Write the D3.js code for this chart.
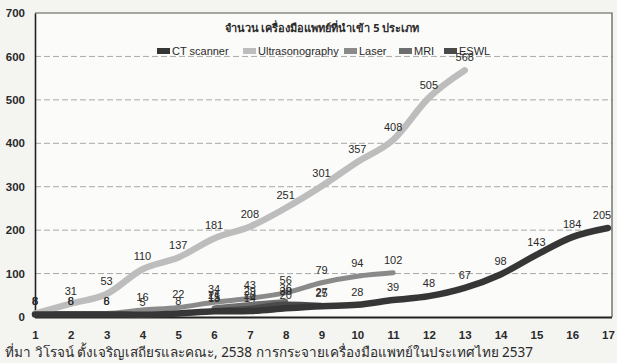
<!DOCTYPE html>
<html>
<head>
<meta charset="utf-8">
<script src="https://cdn.jsdelivr.net/npm/d3@7/dist/d3.min.js"></script>
<style>
  html, body { margin: 0; padding: 0; background: #f4f4f1; }
  svg { display: block; }
  text { font-family: "Liberation Sans", Arial, "DejaVu Sans", sans-serif; fill: #2a2a2a; }
</style>
</head>
<body>
<svg id="chart" width="617" height="363"></svg>
<script>
// x positions 1..17
const categories = d3.range(1, 18);

// number of imported units per series (null = no data)
const ctScanner = [6, 6, 6, 5, 8, 13, 14, 20, 25, 28, 39, 48, 67, 98, 143, 184, 205];
const ultrasonography = [8, 31, 53, 110, 137, 181, 208, 251, 301, 357, 408, 505, 568];
const laser = [8, 8, 8, 16, 22, 34, 43, 56, 79, 94, 102];
const mri = [null, null, null, null, null, 21, 29, 36];
const eswl = [null, null, null, null, null, 15, 20, 30, 27];

const yTicks = [0, 100, 200, 300, 400, 500, 600, 700];

const titleText = "จำนวน เครื่องมือแพทย์ที่นำเข้า 5 ประเภท";
const sourceText = "ที่มา วิโรจน์ ตั้งเจริญเสถียรและคณะ, 2538 การกระจายเครื่องมือแพทย์ในประเทศไทย 2537";

const series = [
  { name: "CT scanner", values: ctScanner, color: "#363636", width: 6.5 },
  { name: "Ultrasonography", values: ultrasonography, color: "#bdbdbd", width: 6.5 },
  { name: "Laser", values: laser, color: "#8a8a8a", width: 5 },
  { name: "MRI", values: mri, color: "#6e6e6e", width: 5 },
  { name: "ESWL", values: eswl, color: "#4a4a4a", width: 5 }
];

const svg = d3.select("#chart");
const plotL = 35, plotR = 608, plotT = 13, plotB = 317, frameR = 612;

const x = d3.scaleLinear().domain([1, 17]).range([plotL, plotR]);
const y = d3.scaleLinear().domain([0, 700]).range([plotB, plotT]);

// plot background
svg.append("rect").attr("x", plotL).attr("y", plotT)
  .attr("width", frameR - plotL).attr("height", plotB - plotT)
  .attr("fill", "#fbfbf9");

// dashed gridlines
svg.append("g").selectAll("line").data(yTicks.filter(t => t > 0 && t < 700)).join("line")
  .attr("x1", plotL).attr("x2", frameR)
  .attr("y1", d => y(d)).attr("y2", d => y(d))
  .attr("stroke", "#a8a8a8").attr("stroke-width", 1).attr("stroke-dasharray", "6,3");

// frame: top and right borders
svg.append("path")
  .attr("d", `M${plotL},${plotT}H${frameR}V${plotB}`)
  .attr("fill", "none").attr("stroke", "#555").attr("stroke-width", 1.2);

// y axis
const yAxis = svg.append("g").attr("transform", `translate(${plotL},0)`)
  .call(d3.axisLeft(y).tickValues(yTicks).tickSize(0).tickPadding(10));
yAxis.select(".domain").attr("stroke", "#222").attr("stroke-width", 1.6);
yAxis.selectAll("text").style("font-size", "11.5px").style("font-weight", "bold").attr("fill", "#2a2a2a");

// x axis
const xAxis = svg.append("g").attr("transform", `translate(0,${plotB})`)
  .call(d3.axisBottom(x).tickValues(categories).tickFormat(d3.format("d")).tickSize(0).tickPadding(14));
xAxis.select(".domain").attr("stroke", "#222").attr("stroke-width", 2.2)
  .attr("d", `M${plotL},0.5H${frameR}`);
xAxis.selectAll("text").style("font-size", "11.5px").style("font-weight", "bold").attr("fill", "#2a2a2a");

// lines
const line = d3.line()
  .defined(d => d.v !== null && d.v !== undefined)
  .x(d => x(d.c)).y(d => y(d.v))
  .curve(d3.curveMonotoneX);

const drawOrder = [2, 3, 4, 1, 0];
drawOrder.forEach(i => {
  const s = series[i];
  const pts = s.values.map((v, k) => ({ c: categories[k], v }));
  svg.append("path").datum(pts)
    .attr("d", line)
    .attr("fill", "none")
    .attr("stroke", s.color)
    .attr("stroke-width", s.width)
    .attr("stroke-linejoin", "round")
    .attr("stroke-linecap", "round");
});

// value labels above each point
series.forEach(s => {
  s.values.forEach((v, k) => {
    if (v === null || v === undefined) return;
    const lx = categories[k] === 17 ? x(categories[k]) - 6 : x(categories[k]);
    svg.append("text")
      .attr("x", lx)
      .attr("y", y(v) - 9)
      .attr("text-anchor", "middle")
      .style("font-size", "11px")
      .attr("fill", "#333")
      .text(v);
  });
});

// title
svg.append("text").attr("x", 322).attr("y", 32).attr("text-anchor", "middle")
  .style("font-size", "11px").style("font-weight", "bold")
  .style("font-family", "'Noto Sans', 'DejaVu Sans', sans-serif")
  .text(titleText);

// legend
const legendItems = [
  { s: series[0], x: 157 },
  { s: series[1], x: 243 },
  { s: series[2], x: 344 },
  { s: series[3], x: 399 },
  { s: series[4], x: 444 }
];
const lg = svg.append("g");
legendItems.forEach(it => {
  lg.append("rect").attr("x", it.x).attr("y", 48).attr("width", 13).attr("height", 6)
    .attr("fill", it.s.color);
  lg.append("text").attr("x", it.x + 15).attr("y", 55)
    .style("font-size", "11px").text(it.s.name);
});

// source note
svg.append("text").attr("x", 5).attr("y", 357)
  .style("font-size", "13.5px")
  .style("font-family", "'Noto Sans', 'DejaVu Sans', sans-serif")
  .text(sourceText);
</script>
</body>
</html>
